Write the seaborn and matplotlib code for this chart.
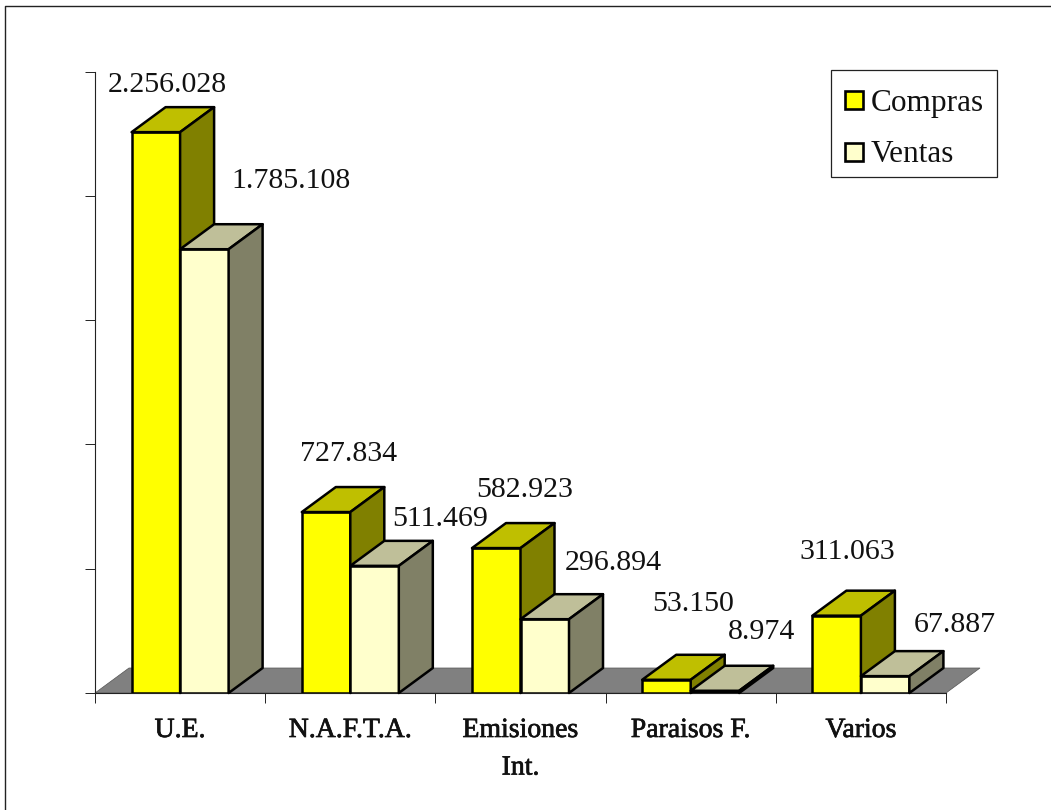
#!/usr/bin/env python3
"""Compras / Ventas por zona: barras con falso 3D"""
import matplotlib; matplotlib.use('Agg')
import matplotlib.pyplot as plt
import matplotlib.patheffects as pe
from matplotlib.lines import Line2D
from matplotlib.patches import Rectangle
import pandas as pd
import seaborn as sns

categorias = ['U.E.', 'N.A.F.T.A.', 'Emisiones\nInt.', 'Paraisos F.', 'Varios']
compras = [2256028, 727834, 582923, 53150, 311063]
ventas = [1785108, 511469, 296894, 8974, 67887]
y_ticks = [0, 500000, 1000000, 1500000, 2000000, 2500000]

# posicion de las etiquetas respecto al centro de la cara frontal (px)
off_compras = [(11, 47), (23, 58), (28, 58), (27, 76), (11, 64)]
off_ventas = [(87, 68), (66, 47), (69, 56), (47, 59), (70, 51)]

W, H = 1051, 810
AX_L, AX_R, AX_T, AX_B = 95, 946, 71.5, 693
DX, DY = 34, 25  # profundidad en px
LW = 1.8

sns.set_theme(style='white')
plt.rcParams['font.family'] = ['Liberation Serif', 'DejaVu Serif']

df = pd.DataFrame({
    'cat': categorias * 2,
    'serie': ['Compras'] * 5 + ['Ventas'] * 5,
    'valor': compras + ventas,
})

fig = plt.figure(figsize=(W / 100, H / 100), dpi=100, facecolor='white')
ax = fig.add_axes([AX_L / W, 1 - AX_B / H, (AX_R - AX_L) / W, (AX_B - AX_T) / H])
sns.barplot(data=df, x='cat', y='valor', hue='serie', order=categorias,
            palette={'Compras': '#FFFF00', 'Ventas': '#FFFFCC'}, width=0.57, gap=0, saturation=1,
            edgecolor='black', linewidth=LW, ax=ax, legend=False, zorder=3)
ax.set_xlim(-0.5, 4.5)
ax.set_ylim(0, 2500000)
ax.set_yticks(y_ticks)
ax.set_yticklabels([])
ax.set_xlabel('')
ax.set_ylabel('')
# marcas en los limites de cada categoria, texto centrado con ticks menores
ax.set_xticks([i - 0.5 for i in range(6)])
ax.set_xticklabels([])
ax.set_xticks(range(5), categorias, minor=True)
ax.tick_params(axis='both', which='major', length=7.2, width=0.7, color='#222222', left=True, bottom=True)
ax.tick_params(axis='x', which='minor', length=0, pad=18, labelsize=20, labelcolor='#111111')
for lab in ax.get_xticklabels(minor=True):
    lab.set_linespacing(1.66)
    lab.set_path_effects([pe.withStroke(linewidth=0.5, foreground='#111111')])
sns.despine(ax=ax)
for s in ['left', 'bottom']:
    ax.spines[s].set_linewidth(0.8)
    ax.spines[s].set_color('#222222')
    ax.spines[s].set_zorder(2)

# px -> datos
ddx = DX * 5 / (AX_R - AX_L)
ddy = DY * 2500000 / (AX_B - AX_T)

# suelo gris
ax.fill([-0.5, -0.5 + ddx, 4.5 + ddx, 4.5], [0, ddy, ddy, 0], color='#808080',
        lw=0.5, ec='#555555', zorder=1, clip_on=False)


def caras(bar, c_top, c_side, z):
    x0, x1 = bar.get_x(), bar.get_x() + bar.get_width()
    h = bar.get_height()
    ax.fill([x0, x0 + ddx, x1 + ddx, x1], [h, h + ddy, h + ddy, h], fc=c_top, ec='black',
            lw=LW, zorder=z, clip_on=False, joinstyle='round')
    ax.fill([x1, x1 + ddx, x1 + ddx, x1], [0, ddy, h + ddy, h], fc=c_side, ec='black',
            lw=LW, zorder=z, clip_on=False, joinstyle='round')


for bar in ax.containers[0]:
    bar.set_zorder(3)
    caras(bar, '#BFBF00', '#808000', 3)
for bar in ax.containers[1]:
    bar.set_zorder(4)
    caras(bar, '#BFBF99', '#808066', 4)

for cont, offs in zip(ax.containers, [off_compras, off_ventas]):
    for bar, (ox, oy) in zip(cont, offs):
        txt = f'{int(bar.get_height()):,}'.replace(',', '.')
        ax.annotate(txt, (bar.get_x() + bar.get_width() / 2, bar.get_height()), xytext=(ox, oy),
                    textcoords='offset pixels', ha='center', va='center', fontsize=21.5,
                    color='#111111', zorder=6, annotation_clip=False)

# leyenda hecha a mano sobre la figura
fig.add_artist(Rectangle((831 / W, 1 - 177 / H), 166 / W, 107 / H, transform=fig.transFigure,
                         fc='white', ec='#222222', lw=0.9, zorder=7))
for nombre, col, yc in [('Compras', '#FFFF00', 100), ('Ventas', '#FFFFCC', 152)]:
    fig.add_artist(Rectangle((844.5 / W, 1 - (yc + 9) / H), 18.5 / W, 18 / H, transform=fig.transFigure,
                             fc=col, ec='black', lw=1.9, zorder=8))
    fig.text(871 / W, 1 - (yc + 3) / H, nombre, fontsize=22.5, va='center', ha='left', color='#111111', zorder=8)

# marco exterior: solo arriba e izquierda
fig.add_artist(Line2D([5 / W, 5 / W, 1], [0, 1 - 6 / H, 1 - 6 / H], transform=fig.transFigure,
                      color='#222222', lw=1.0, zorder=0))

fig.savefig('out.png', dpi=100)
plt.close(fig)
